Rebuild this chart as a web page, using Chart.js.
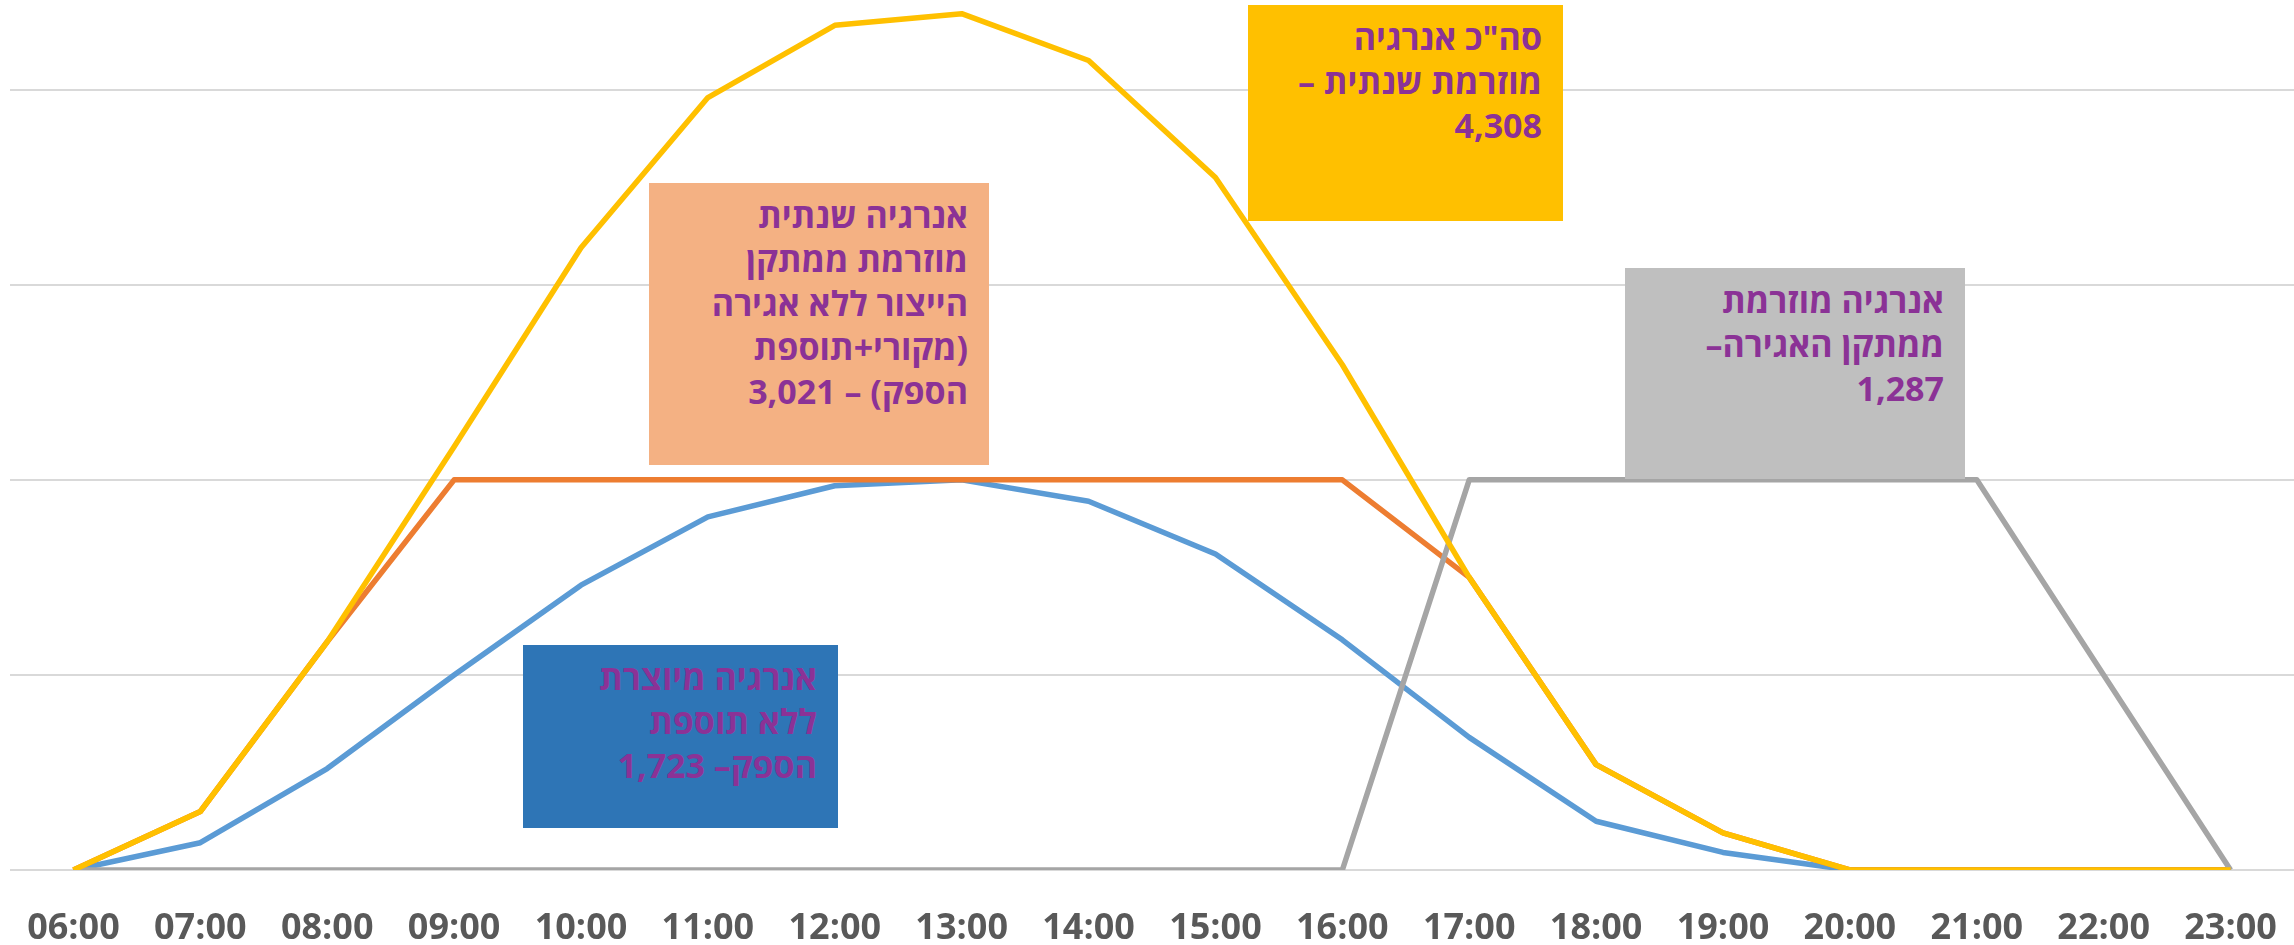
<!DOCTYPE html>
<html lang="he">
<head>
<meta charset="utf-8">
<title>אנרגיה מוזרמת לפי שעה</title>
<script src="https://cdn.jsdelivr.net/npm/chart.js@4.4.1/dist/chart.umd.min.js"></script>
<style>
  html, body { margin: 0; padding: 0; background: #ffffff; }
  #wrap { position: relative; width: 2294px; height: 945px; overflow: hidden; }
  #chart { position: absolute; left: 0; top: 0; }
  .note {
    position: absolute;
    box-sizing: border-box;
    direction: rtl;
    text-align: right;
    font-family: "Open Sans", "Liberation Sans", "DejaVu Sans", sans-serif;
    font-weight: bold;
    font-size: 34px;
    line-height: 44px;
    color: #8B3296;
    padding: 10px 21px 0 10px;
    white-space: nowrap;
  }
</style>
</head>
<body>
<div id="wrap">
  <canvas id="chart" width="2294" height="945"></canvas>
  <div class="note" style="left:1248px; top:5px; width:315px; height:216px; background:#FFC000;">סה"כ אנרגיה<br>מוזרמת שנתית –<br>4,308</div>
  <div class="note" style="left:649px; top:183px; width:340px; height:282px; background:#F4B183;">אנרגיה שנתית<br>מוזרמת ממתקן<br>הייצור ללא אגירה<br>(מקורי+תוספת<br>הספק) – 3,021</div>
  <div class="note" style="left:1625px; top:268px; width:340px; height:211px; background:#BFBFBF;">אנרגיה מוזרמת<br>ממתקן האגירה–<br>1,287</div>
  <div class="note" style="left:523px; top:645px; width:315px; height:183px; background:#2E75B6;">אנרגיה מיוצרת<br>ללא תוספת<br>הספק– 1,723</div>
</div>
<script>
// hours of the day
const hours = ["06:00", "07:00", "08:00", "09:00", "10:00", "11:00", "12:00", "13:00", "14:00",
  "15:00", "16:00", "17:00", "18:00", "19:00", "20:00", "21:00", "22:00", "23:00"];

// total injected energy (yellow)
const totalInjected = [0, 30, 117, 217, 319, 396, 433, 439, 415, 355, 259, 150, 54, 19, 0, 0, 0, 0];
// injected from production without storage (orange)
const productionInjected = [0, 30, 117, 200, 200, 200, 200, 200, 200, 200, 200, 150, 54, 19, 0, 0, 0, 0];
// produced without added capacity (blue)
const producedBase = [0, 14, 52, 100, 146, 181, 197, 200, 189, 162, 118, 68, 25, 9, 0, 0, 0, 0];
// injected from storage (gray)
const storageInjected = [0, 0, 0, 0, 0, 0, 0, 0, 0, 0, 0, 200, 200, 200, 200, 200, 100, 0];

const lineStyle = (color) => ({
  borderColor: color,
  backgroundColor: color,
  borderWidth: 5.5,
  pointRadius: 0,
  tension: 0,
  fill: false,
  borderJoinStyle: "round"
});

// first dataset is drawn on top
new Chart(document.getElementById("chart"), {
  type: "line",
  data: {
    labels: hours,
    datasets: [
      Object.assign({ data: totalInjected }, lineStyle("#FFC000")),
      Object.assign({ data: storageInjected }, lineStyle("#A5A5A5")),
      Object.assign({ data: productionInjected }, lineStyle("#ED7D31")),
      Object.assign({ data: producedBase }, lineStyle("#5B9BD5"))
    ]
  },
  options: {
    responsive: false,
    devicePixelRatio: 1,
    animation: false,
    layout: { padding: { left: 10, right: 0, top: 0, bottom: 0 } },
    plugins: {
      legend: { display: false },
      tooltip: { enabled: false }
    },
    scales: {
      x: {
        offset: true,
        grid: { display: false },
        border: { display: false },
        ticks: {
          color: "#595959",
          autoSkip: false,
          maxRotation: 0,
          padding: 33,
          font: { family: "'Open Sans', 'Liberation Sans', sans-serif", size: 36, weight: "bold", lineHeight: 1 }
        },
        afterFit: (scale) => {
          scale.height = 75;
          scale.paddingLeft = 0;
          scale.paddingRight = 0;
        }
      },
      y: {
        min: 0,
        max: 446,
        border: { display: false },
        grid: { color: "#D9D9D9", lineWidth: 2, drawTicks: false },
        ticks: { display: false, stepSize: 100, includeBounds: false }
      }
    }
  }
});
</script>
</body>
</html>
